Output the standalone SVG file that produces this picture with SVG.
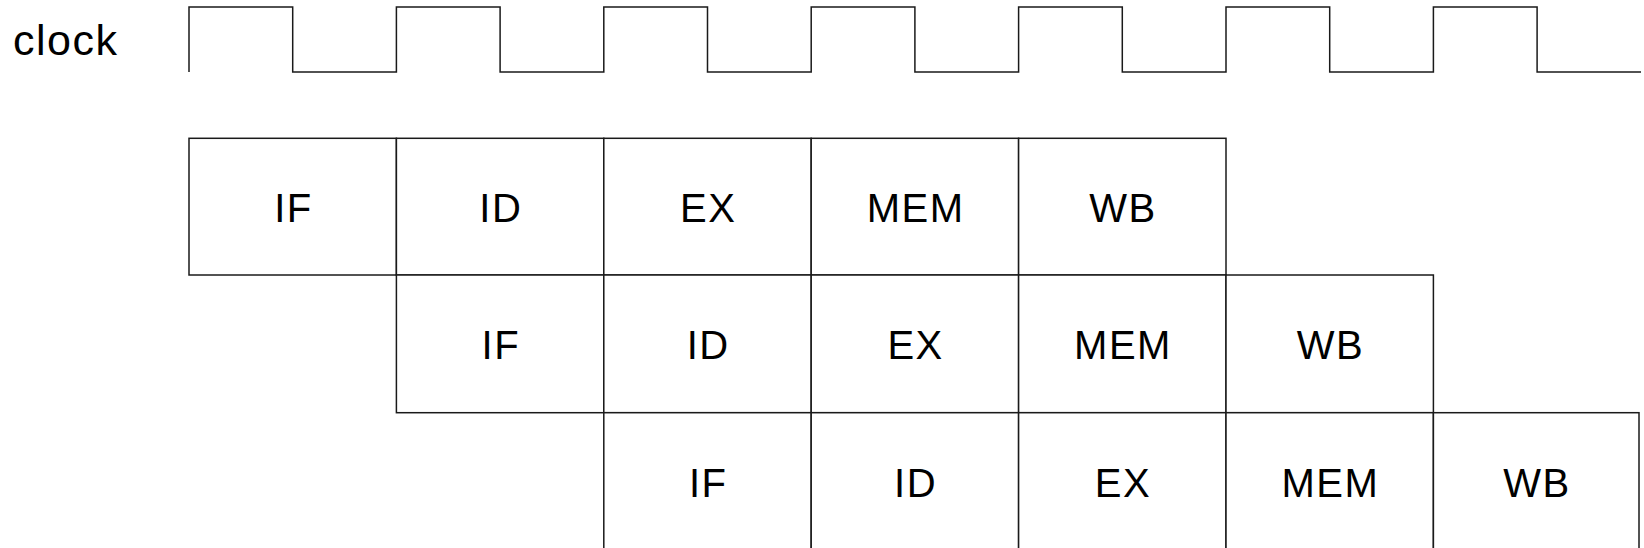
<svg xmlns="http://www.w3.org/2000/svg" width="1644" height="548" viewBox="0 0 1644 548">
<style>
.ln{fill:none;stroke:#1a1a1a;stroke-width:1.5}
.cell{fill:#fff;stroke:#1a1a1a;stroke-width:1.5}
.t{font-family:"Liberation Sans",Arial,sans-serif;font-size:40px;fill:#000;text-anchor:middle;letter-spacing:1.5px}
.lbl{font-family:"Liberation Sans",Arial,sans-serif;font-size:43px;fill:#000;letter-spacing:1.5px}
</style>
<rect width="1644" height="548" fill="#fff"/>
<g id="clock">
<text class="lbl" x="13" y="55">clock</text>
<path class="ln" d="M189,72 V7 H292.7 V72 H396.4 V7 H500.1 V72 H603.8 V7 H707.5 V72 H811.2 V7 H914.9 V72 H1018.6 V7 H1122.3 V72 H1226 V7 H1329.7 V72 H1433.4 V7 H1537.1 V72 H1641"/>
</g>
<g id="row1">
<g id="r1-if"><rect class="cell" x="189" y="138.3" width="207.4" height="136.7"/><text class="t" x="293.4" y="221.5">IF</text></g>
<g id="r1-id"><rect class="cell" x="396.4" y="138.3" width="207.4" height="136.7"/><text class="t" x="500.8" y="221.5">ID</text></g>
<g id="r1-ex"><rect class="cell" x="603.8" y="138.3" width="207.4" height="136.7"/><text class="t" x="708.2" y="221.5">EX</text></g>
<g id="r1-mem"><rect class="cell" x="811.2" y="138.3" width="207.4" height="136.7"/><text class="t" x="915.6" y="221.5">MEM</text></g>
<g id="r1-wb"><rect class="cell" x="1018.6" y="138.3" width="207.4" height="136.7"/><text class="t" x="1123" y="221.5">WB</text></g>
</g>
<g id="row2">
<g id="r2-if"><rect class="cell" x="396.4" y="275" width="207.4" height="137.7"/><text class="t" x="500.8" y="359">IF</text></g>
<g id="r2-id"><rect class="cell" x="603.8" y="275" width="207.4" height="137.7"/><text class="t" x="708.2" y="359">ID</text></g>
<g id="r2-ex"><rect class="cell" x="811.2" y="275" width="207.4" height="137.7"/><text class="t" x="915.6" y="359">EX</text></g>
<g id="r2-mem"><rect class="cell" x="1018.6" y="275" width="207.4" height="137.7"/><text class="t" x="1123" y="359">MEM</text></g>
<g id="r2-wb"><rect class="cell" x="1226" y="275" width="207.4" height="137.7"/><text class="t" x="1330.4" y="359">WB</text></g>
</g>
<g id="row3">
<g id="r3-if"><rect class="cell" x="603.8" y="412.7" width="207.4" height="150"/><text class="t" x="708.2" y="497">IF</text></g>
<g id="r3-id"><rect class="cell" x="811.2" y="412.7" width="207.4" height="150"/><text class="t" x="915.6" y="497">ID</text></g>
<g id="r3-ex"><rect class="cell" x="1018.6" y="412.7" width="207.4" height="150"/><text class="t" x="1123" y="497">EX</text></g>
<g id="r3-mem"><rect class="cell" x="1226" y="412.7" width="207.4" height="150"/><text class="t" x="1330.4" y="497">MEM</text></g>
<g id="r3-wb"><rect class="cell" x="1433.4" y="412.7" width="205.6" height="150"/><text class="t" x="1536.9" y="497">WB</text></g>
</g>
</svg>
